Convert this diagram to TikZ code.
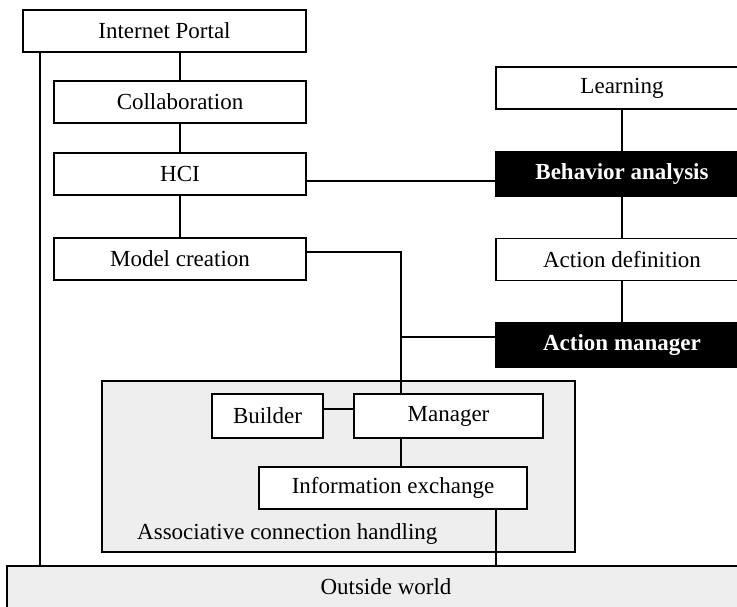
\documentclass[tikz,border=0pt]{standalone}
\usepackage{fontspec}
\setmainfont{Liberation Serif}
\usetikzlibrary{positioning,calc}

\begin{document}
\begin{tikzpicture}[x=1pt,y=-1pt,
    every node/.style={font=\fontsize{23}{27}\selectfont},
    blk/.style={draw, line width=1.6pt, fill=white, minimum width=252pt, minimum height=42pt, inner sep=0pt},
    dark/.style={blk, fill=black, text=white, minimum height=44pt, font=\fontsize{23}{27}\selectfont\bfseries},
    grp/.style={draw, line width=1.6pt, fill=gray!13, inner sep=0pt},
    wire/.style={line width=1.4pt}]
    \useasboundingbox (0,0) rectangle (737,606);
    \clip (0,0) rectangle (737,606);

    % associative handling group and outside world
    \node[grp, minimum width=473pt, minimum height=171pt] (assoc) at (338.5,466.5) {};
    \node[anchor=base west, inner sep=0pt] (assoclbl) at (137,539) {Associative connection handling};
    \node[grp, minimum width=758pt, minimum height=42pt] (outside) at (386,587) {Outside world};

    % left column
    \node[blk, minimum width=283pt] (portal) at (164.5,31) {Internet Portal};
    \node[blk] (collab) at (180,102) {Collaboration};
    \node[blk] (hci) at (180,174) {HCI};
    \node[blk] (model) at (180,259) {Model creation};

    % right column
    \node[blk] (learn) at (622,88) {Learning};
    \node[dark] (behav) at (622,174) {Behavior analysis};
    \node[blk] (actdef) at (622,259.5) {Action definition};
    \node[dark] (actman) at (622,345) {Action manager};

    % inside the group
    \node[blk, minimum width=111pt, minimum height=44pt] (builder) at (267.5,416) {Builder};
    \node[blk, minimum width=189pt, minimum height=44pt] (manager) at (448.5,416) {Manager};
    \node[blk, minimum width=268pt] (info) at (393,488) {Information exchange};

    \coordinate (rail) at (40,52);
    \coordinate (bus) at (401,337);

    % connectors
    \draw[wire] (rail |- portal.south) -- (rail |- outside.north);
    \draw[wire] (collab.north) -- (collab.north |- portal.south);
    \draw[wire] (collab) -- (hci);
    \draw[wire] (hci) -- (model);
    \draw[wire] (learn) -- (behav);
    \draw[wire] (behav) -- (actdef);
    \draw[wire] (actdef) -- (actman);
    \draw[wire] ([yshift=-7pt]hci.east) -- ([yshift=-7pt]behav.west);
    \draw[wire] ([yshift=7pt]model.east) -| (bus |- manager.north);
    \draw[wire] ([yshift=8pt]actman.west) -- (bus);
    \draw[wire] ([yshift=7pt]builder.east) -- ([yshift=7pt]manager.west);
    \draw[wire] (bus |- manager.south) -- (bus |- info.north);
    \draw[wire] ([xshift=103pt]info.south) -- ([xshift=103pt]info.south |- outside.north);
\end{tikzpicture}
\end{document}
